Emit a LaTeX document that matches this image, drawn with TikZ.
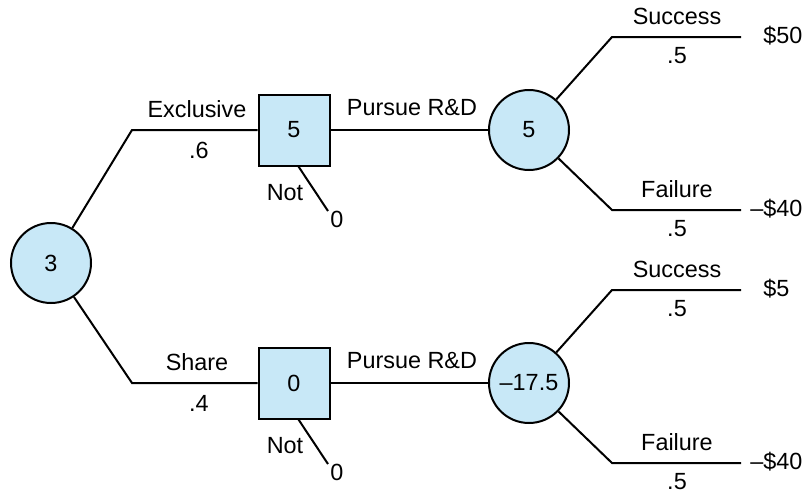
\documentclass[tikz,border=0pt]{standalone}
\usepackage{fontspec}
\setmainfont{Liberation Sans}
\definecolor{nodeblue}{RGB}{200,232,247}

\begin{document}
\begin{tikzpicture}[x=0.5pt, y=-0.5pt,
  every node/.style={font=\fontsize{11.7}{14}\selectfont},
  chance/.style={circle, draw, line width=1pt, fill=nodeblue, minimum size=40pt, inner sep=0pt},
  decision/.style={rectangle, draw, line width=1pt, fill=nodeblue, minimum size=35.5pt, inner sep=0pt},
  txt/.style={inner sep=0pt},
  pay/.style={inner sep=0pt, anchor=west},
  branch/.style={line width=1pt}
]
\useasboundingbox (0,0) rectangle (809,493);

% nodes
\node[chance] (root) at (51,263) {3};
\node[decision] (excl) at (294,130) {5};
\node[decision] (share) at (294,383) {0};
\node[chance] (rdA) at (529,130) {5};
\node[chance] (rdB) at (529,383) {–17.5};

% elbows and branch ends
\coordinate (eExcl) at (132,130);
\coordinate (eShare) at (132,383);
\coordinate (notA) at (328,211);
\coordinate (notB) at (328,464);
\coordinate (sucA) at (612,37);   \coordinate (sucAend) at (741,37);
\coordinate (failA) at (612,210); \coordinate (failAend) at (741,210);
\coordinate (sucB) at (612,290);  \coordinate (sucBend) at (741,290);
\coordinate (failB) at (612,463); \coordinate (failBend) at (741,463);

% branches
\draw[branch] (root) -- (eExcl) -- (excl);
\draw[branch] (root) -- (eShare) -- (share);
\draw[branch] (excl) -- (rdA);
\draw[branch] (share) -- (rdB);
\draw[branch] (excl.-83) -- (notA);
\draw[branch] (share.-83) -- (notB);
\draw[branch] (rdA) -- (sucA) -- (sucAend);
\draw[branch] (rdA) -- (failA) -- (failAend);
\draw[branch] (rdB) -- (sucB) -- (sucBend);
\draw[branch] (rdB) -- (failB) -- (failBend);

% labels
\node[txt] (lExcl) at (197,109) {Exclusive};
\node[txt] (pExcl) at (199,150) {.6};
\node[txt] (lShare) at (197,362) {Share};
\node[txt] (pShare) at (199,403) {.4};
\node[txt] (lNotA) at (285,193) {Not};
\node[txt] (vNotA) at (337,219) {0};
\node[txt] (lNotB) at (285,446) {Not};
\node[txt] (vNotB) at (337,472) {0};
\node[txt] (lRdA) at (412,108) {Pursue R\&D};
\node[txt] (lRdB) at (412,361) {Pursue R\&D};
\node[txt] (lSucA) at (677,16) {Success};
\node[txt] (pSucA) at (677,56) {.5};
\node[txt] (lFailA) at (677,189) {Failure};
\node[txt] (pFailA) at (677,229) {.5};
\node[txt] (lSucB) at (677,269) {Success};
\node[txt] (pSucB) at (677,309) {.5};
\node[txt] (lFailB) at (677,442) {Failure};
\node[txt] (pFailB) at (677,482) {.5};

% payoffs
\node[pay] (vSucA) at (763,36) {\$50};
\node[pay] (vFailA) at (763,209) {\llap{–}\$40};
\node[pay] (vSucB) at (763,289) {\$5};
\node[pay] (vFailB) at (763,462) {\llap{–}\$40};
\end{tikzpicture}
\end{document}
